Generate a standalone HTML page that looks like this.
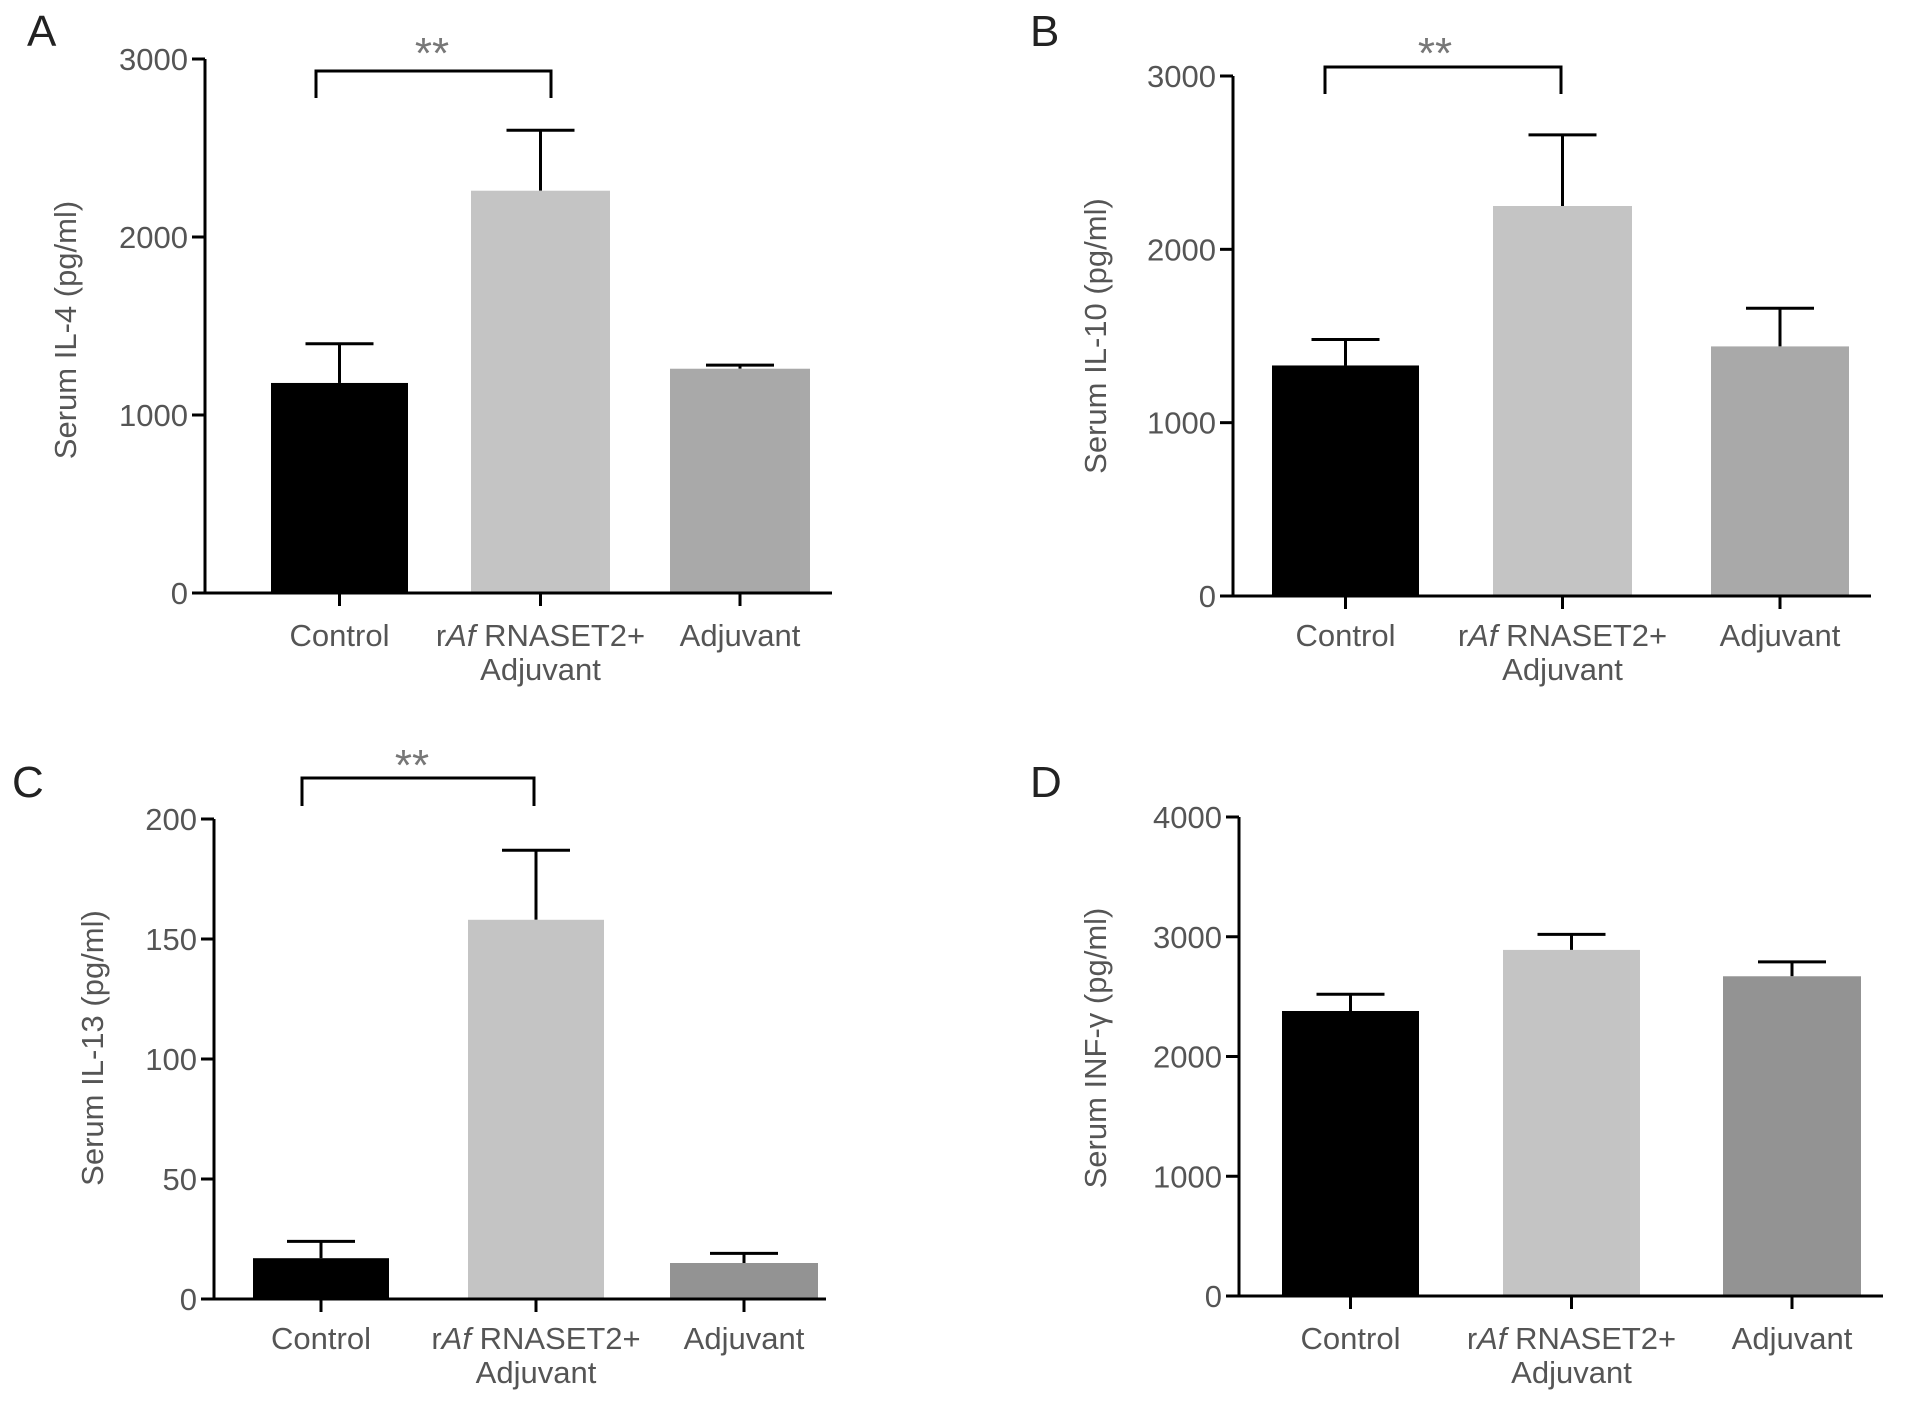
<!DOCTYPE html>
<html><head><meta charset="utf-8"><style>
body{margin:0;background:#fff;}
svg{display:block;font-family:"Liberation Sans",sans-serif;}
</style></head><body>
<svg id="fig" width="1913" height="1402" viewBox="0 0 1913 1402"></svg>
<script>
const categories = ["Control", "rAf RNASET2+ Adjuvant", "Adjuvant"];
const il4Values = [1180, 2260, 1260];
const il4Errors = [220, 340, 20];
const il10Values = [1330, 2250, 1440];
const il10Errors = [150, 410, 220];
const il13Values = [17, 158, 15];
const il13Errors = [7, 29, 4];
const infgValues = [2380, 2890, 2670];
const infgErrors = [140, 130, 120];
const ticks3000 = [0, 1000, 2000, 3000];
const ticks200 = [0, 50, 100, 150, 200];
const ticks4000 = [0, 1000, 2000, 3000, 4000];

const NS = "http://www.w3.org/2000/svg";
const svg = document.getElementById("fig");
function mk(tag, attrs, parent) {
  const e = document.createElementNS(NS, tag);
  for (const k in attrs) e.setAttribute(k, attrs[k]);
  (parent || svg).appendChild(e);
  return e;
}
const panels = [
  {id:"a", label:"A", lx:27, ly:46, ax:205, yTop:59, yBot:593, xEnd:832, max:3000, ticks:ticks3000, vals:il4Values, errs:il4Errors,
   bars:[[271,408],[471,610],[670,810]], colors:["#000","#c4c4c4","#a9a9a9"], title:"Serum IL-4 (pg/ml)", tx:76, ty:330,
   bracket:[316,551,71,98], starX:432, starY:52, catY:646},
  {id:"b", label:"B", lx:1030, ly:46, ax:1233, yTop:76, yBot:596, xEnd:1871, max:3000, ticks:ticks3000, vals:il10Values, errs:il10Errors,
   bars:[[1272,1419],[1493,1632],[1711,1849]], colors:["#000","#c4c4c4","#a9a9a9"], title:"Serum IL-10 (pg/ml)", tx:1106, ty:336,
   bracket:[1325,1561,67,94], starX:1435, starY:52, catY:646},
  {id:"c", label:"C", lx:12, ly:797, ax:214, yTop:819, yBot:1299, xEnd:826, max:200, ticks:ticks200, vals:il13Values, errs:il13Errors,
   bars:[[253,389],[468,604],[670,818]], colors:["#000","#c4c4c4","#939393"], title:"Serum IL-13 (pg/ml)", tx:103, ty:1048,
   bracket:[302,534,778,806], starX:412, starY:764, catY:1349},
  {id:"d", label:"D", lx:1030, ly:797, ax:1239, yTop:817, yBot:1296, xEnd:1883, max:4000, ticks:ticks4000, vals:infgValues, errs:infgErrors,
   bars:[[1282,1419],[1503,1640],[1723,1861]], colors:["#000","#c4c4c4","#939393"], title:"Serum INF-\u03b3 (pg/ml)", tx:1106, ty:1048,
   bracket:null, catY:1349}
];
panels.forEach(p => {
  const g = mk("g", {});
  
  
  const y = v => p.yBot - (v / p.max) * (p.yBot - p.yTop);
  const lab = mk("text", {x:p.lx, y:p.ly, "font-size":44, fill:"#222"}, g);
  lab.textContent = p.label;
  
  
  const yt = mk("text", {x:p.tx, y:p.ty, "font-size":31, fill:"#555", "text-anchor":"middle", transform:`rotate(-90 ${p.tx} ${p.ty})`}, g);
  yt.textContent = p.title;
  
  
  p.vals.forEach((v, i) => {
    const [x0, x1] = p.bars[i];
    const cx = (x0 + x1) / 2;
    const top = y(v + p.errs[i]);
    const el = mk("line", {x1:cx, x2:cx, y1:y(v), y2:top, stroke:"#000", "stroke-width":3}, g);
    
    
    const cap = mk("line", {x1:cx - 34, x2:cx + 34, y1:top, y2:top, stroke:"#000", "stroke-width":3}, g);
    
    
    const r = mk("rect", {x:x0, y:y(v), width:x1 - x0, height:p.yBot - y(v), fill:p.colors[i]}, g);
    
    
    const tk = mk("line", {x1:cx, x2:cx, y1:p.yBot, y2:p.yBot + 13, stroke:"#000", "stroke-width":3}, g);
    
    
    const t = mk("text", {x:cx, y:p.catY, "font-size":31, fill:"#555", "text-anchor":"middle"}, g);
    
    
    if (i === 1) {
      const s1 = mk("tspan", {x:cx}, t); s1.textContent = "r";
      const s2 = mk("tspan", {"font-style":"italic"}, t); s2.textContent = "Af";
      const s3 = mk("tspan", {}, t); s3.textContent = " RNASET2+";
      const s4 = mk("tspan", {x:cx, dy:34}, t); s4.textContent = "Adjuvant";
    } else t.textContent = categories[i];
  });
  const ya = mk("line", {x1:p.ax, x2:p.ax, y1:p.yTop, y2:p.yBot, stroke:"#000", "stroke-width":3}, g);
  
  
  const xa = mk("line", {x1:p.ax - 1.5, x2:p.xEnd, y1:p.yBot, y2:p.yBot, stroke:"#000", "stroke-width":3}, g);
  
  
  p.ticks.forEach(tv => {
    const tl = mk("line", {x1:p.ax - 13, x2:p.ax, y1:y(tv), y2:y(tv), stroke:"#000", "stroke-width":3}, g);
    
    
    const tt = mk("text", {x:p.ax - 17, y:y(tv) + 11, "font-size":31, fill:"#555", "text-anchor":"end"}, g);
    tt.textContent = tv;
    
    
  });
  if (p.bracket) {
    const [bx0, bx1, by, bd] = p.bracket;
    const br = mk("path", {d:`M${bx0} ${bd} V${by} H${bx1} V${bd}`, fill:"none", stroke:"#000", "stroke-width":3}, g);
    
    
    const st = mk("text", {x:p.starX, y:p.starY + 16, "font-size":44, fill:"#777", "text-anchor":"middle"}, g);
    st.textContent = "**";
    
    
  }
});
</script>
</body></html>
